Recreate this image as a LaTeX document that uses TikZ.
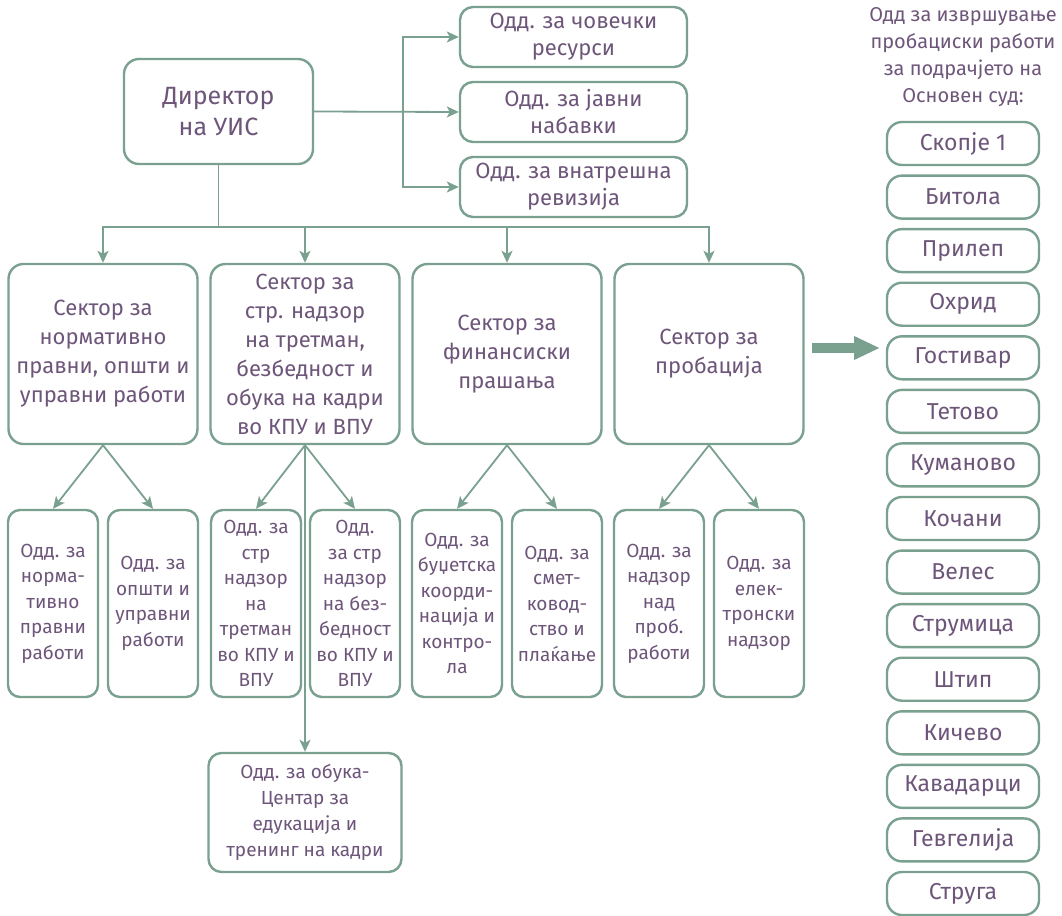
\documentclass[tikz,border=0pt]{standalone}
\usepackage{fontspec}
\setmainfont{Fira Sans}
\usetikzlibrary{arrows.meta}
\definecolor{lgreen}{RGB}{122,160,144}
\definecolor{tpurple}{RGB}{110,86,122}
\tikzset{block/.style = {draw=lgreen, line width=2.4pt, fill=white, rectangle, rounded corners=15pt, inner sep=0pt, align=center, text=tpurple},
         boss/.style = {block, minimum width=189pt, minimum height=105pt, font=\fontsize{25}{31}\selectfont},
         unit/.style = {block, rounded corners=13pt, minimum width=227pt, minimum height=60pt, font=\fontsize{22}{27}\selectfont},
         sector/.style = {block, minimum width=189pt, minimum height=180pt, font=\fontsize{22}{29}\selectfont},
         dept/.style = {block, rounded corners=12pt, minimum width=90pt, minimum height=187pt, font=\fontsize{19}{25.5}\selectfont},
         court/.style = {block, minimum width=152pt, minimum height=43pt, font=\fontsize{23}{24}\selectfont},
         link/.style = {draw=lgreen, line width=1.8pt, -{Stealth[length=12pt,width=11pt,inset=3pt]}},
         fat/.style = {draw=lgreen, line width=10pt, -{Triangle[length=26pt,width=22pt]}}}

\begin{document}
\begin{tikzpicture}[x=1pt,y=-1pt]
    \useasboundingbox (0,0) rectangle (1062,915);

    % top level
    \node[boss] (dir) at (218.5,111.5) {Директор\\на УИС};
    \node[unit] (hr) at (573.5,37) {Одд. за човечки\\ресурси};
    \node[unit] (proc) at (573.5,112) {Одд. за јавни\\набавки};
    \node[unit] (audit) at (573.5,187) {Одд. за внатрешна\\ревизија};

    \coordinate (j) at (403,112);
    \draw[link] (dir.east) -- (proc.west);
    \draw[link] (j) |- (hr.west);
    \draw[link] (j) |- (audit.west);

    % sectors
    \node[sector] (sec1) at (103,354) {Сектор за\\нормативно\\правни, општи и\\управни работи};
    \node[sector] (sec2) at (305,354) {Сектор за\\стр. надзор\\на третман,\\безбедност и\\обука на кадри\\во КПУ и ВПУ};
    \node[sector] (sec3) at (507,354) {Сектор за\\финансиски\\прашања};
    \node[sector] (sec4) at (709,354) {Сектор за\\пробација};

    \coordinate (bus) at (218.5,227);
    \draw[draw=lgreen, line width=1.8pt] (dir.south) -- (bus);
    \draw[link] (bus) -| (sec1.north);
    \draw[link] (bus) -| (sec2.north);
    \draw[link] (bus) -| (sec3.north);
    \draw[link] (bus) -| (sec4.north);

    % departments
    \node[dept] (d11) at (53,603.5) {Одд. за\\норма-\\тивно\\правни\\работи};
    \node[dept] (d12) at (153,603.5) {Одд. за\\општи и\\управни\\работи};
    \node[dept] (d21) at (256,603.5) {Одд. за\\стр\\надзор\\на\\третман\\во КПУ и\\ВПУ};
    \node[dept] (d22) at (355,603.5) {Одд.\\за стр\\надзор\\на без-\\бедност\\во КПУ и\\ВПУ};
    \node[dept] (d31) at (457,603.5) {Одд. за\\буџетска\\коорди-\\нација и\\контро-\\ла};
    \node[dept] (d32) at (557,603.5) {Одд. за\\смет-\\ковод-\\ство и\\плаќање};
    \node[dept] (d41) at (659,603.5) {Одд. за\\надзор\\над\\проб.\\работи};
    \node[dept] (d42) at (759,603.5) {Одд. за\\елек-\\тронски\\надзор};
    \node[unit, minimum width=193pt, minimum height=119pt, font=\fontsize{19}{26}\selectfont] (train) at (305,812.5) {Одд. за обука-\\Центар за\\едукација и\\тренинг на кадри};

    \draw[link] (sec1.south) -- (d11.north);
    \draw[link] (sec1.south) -- (d12.north);
    \draw[link] (sec2.south) -- (d21.north);
    \draw[link] (sec2.south) -- (d22.north);
    \draw[link] (sec2.south) -- (train.north);
    \draw[link] (sec3.south) -- (d31.north);
    \draw[link] (sec3.south) -- (d32.north);
    \draw[link] (sec4.south) -- (d41.north);
    \draw[link] (sec4.south) -- (d42.north);

    % probation offices
    \node[text=tpurple, align=center, font=\fontsize{20}{27}\selectfont] (ttl) at (963,57) {Одд за извршување\\пробациски работи\\за подрачјето на\\Основен суд:};

    \coordinate (pa) at (812,348);
    \coordinate (pb) at (880,348);
    \draw[fat] (pa) -- (pb);

    \node[court] (c1) at (963,143.5) {Скопје 1};
    \node[court] (c2) at (963,197.1) {Битола};
    \node[court] (c3) at (963,250.6) {Прилеп};
    \node[court] (c4) at (963,304.2) {Охрид};
    \node[court] (c5) at (963,357.8) {Гостивар};
    \node[court] (c6) at (963,411.4) {Тетово};
    \node[court] (c7) at (963,464.9) {Куманово};
    \node[court] (c8) at (963,518.5) {Кочани};
    \node[court] (c9) at (963,572.1) {Велес};
    \node[court] (c10) at (963,625.6) {Струмица};
    \node[court] (c11) at (963,679.2) {Штип};
    \node[court] (c12) at (963,732.8) {Кичево};
    \node[court] (c13) at (963,786.3) {Кавадарци};
    \node[court] (c14) at (963,839.9) {Гевгелија};
    \node[court] (c15) at (963,893.5) {Струга};
\end{tikzpicture}
\end{document}
